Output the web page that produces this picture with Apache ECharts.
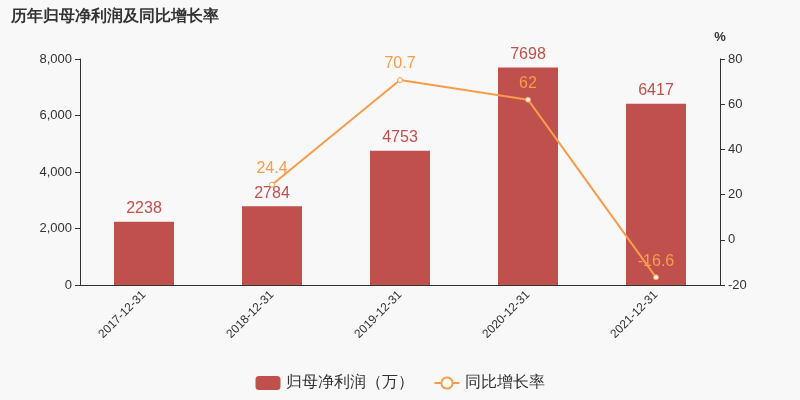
<!DOCTYPE html>
<html><head><meta charset="utf-8">
<script src="https://cdn.jsdelivr.net/npm/echarts@6/dist/echarts.min.js"></script>
<style>html,body{margin:0;background:#f8f8f8}#c{width:800px;height:400px}</style>
</head><body><div id="c"></div>
<script>
const categories=['2017-12-31','2018-12-31','2019-12-31','2020-12-31','2021-12-31'];
const profit=[2238,2784,4753,7698,6417];
const growth=[null,24.4,70.7,62,-16.6];
const chart=echarts.init(document.getElementById('c'));
chart.setOption({
  backgroundColor:'#f8f8f8',
  title:{text:'历年归母净利润及同比增长率',left:6,top:4,textStyle:{fontSize:16,fontWeight:'bold',color:'#333'}},
  legend:{bottom:4,itemGap:20,textStyle:{fontSize:16,color:'#333'},data:['归母净利润（万）','同比增长率']},
  grid:{left:80,right:80,top:59,bottom:115},
  xAxis:{type:'category',data:categories,axisTick:{alignWithLabel:false},axisLine:{lineStyle:{color:'#333'}},axisLabel:{rotate:45,color:'#333',fontSize:12,interval:0}},
  yAxis:[
    {type:'value',min:0,max:8000,interval:2000,splitLine:{show:false},axisLine:{show:true,lineStyle:{color:'#333'}},axisTick:{show:true},axisLabel:{color:'#333',fontSize:13}},
    {type:'value',name:'%',min:-20,max:80,interval:20,nameTextStyle:{color:'#333',fontSize:13,fontWeight:'bold'},splitLine:{show:false},axisLine:{show:true,lineStyle:{color:'#333'}},axisTick:{show:true},axisLabel:{color:'#333',fontSize:13}}
  ],
  series:[
    {name:'归母净利润（万）',type:'bar',data:profit,barWidth:60,itemStyle:{color:'#c0504d'},label:{show:true,position:'top',color:'#c0504d',fontSize:16}},
    {name:'同比增长率',type:'line',yAxisIndex:1,data:growth,symbol:'circle',symbolSize:5,itemStyle:{color:'#fff',borderColor:'#f79d4a',borderWidth:1},lineStyle:{color:'#f79d4a',width:2},label:{show:true,position:'top',color:'#f79d4a',fontSize:16}}
  ]
});
</script></body></html>
